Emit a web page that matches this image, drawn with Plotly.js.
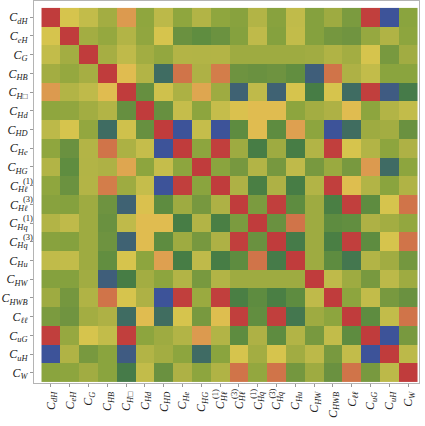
<!DOCTYPE html>
<html>
<head>
<meta charset="utf-8">
<script src="https://cdn.plot.ly/plotly-3.0.1.min.js"></script>
<style>
  html, body { margin: 0; padding: 0; background: #fff; }
  #chart { width: 425px; height: 426px; }
</style>
</head>
<body>
<div id="chart"></div>
<script>
// Wilson coefficient names (row/column order of the matrix)
const labels = [
    'C<sub>dH</sub>', 'C<sub>eH</sub>', 'C<sub>G</sub>', 'C<sub>HB</sub>', 'C<sub>H□</sub>',
    'C<sub>Hd</sub>', 'C<sub>HD</sub>', 'C<sub>He</sub>', 'C<sub>HG</sub>', 'C<sub>Hℓ</sub>',
    'C<sub>Hℓ</sub>', 'C<sub>Hq</sub>', 'C<sub>Hq</sub>', 'C<sub>Hu</sub>', 'C<sub>HW</sub>',
    'C<sub>HWB</sub>', 'C<sub>ℓℓ</sub>', 'C<sub>uG</sub>', 'C<sub>uH</sub>', 'C<sub>W</sub>'
];
// stacked superscripts, drawn over the subscript
const supers = ['', '', '', '', '', '', '', '', '', '(1)', '(3)', '(1)', '(3)', '', '', '', '', '', '', ''];

// correlation matrix
const corr = [
    [1, 0.4, 0.28, 0.06, 0.62, -0.06, 0.24, -0.06, 0.17, -0.06, -0.09, 0.17, -0.09, 0.27, -0.1, 0.02, -0.14, 0.95, -0.95, -0.08],
    [0.4, 1, 0.06, -0.03, 0.17, -0.05, 0.4, -0.25, -0.33, -0.24, -0.1, 0.26, -0.1, 0.28, -0.1, -0.17, -0.21, -0.02, 0.16, -0.07],
    [0.28, 0.06, 1, 0.08, 0.26, 0.05, -0.04, 0.18, 0.17, 0.18, 0.02, 0.02, 0.02, 0.02, 0.04, 0.16, 0.06, 0.4, -0.15, 0.04],
    [0.06, -0.03, 0.08, 1, 0.5, 0.17, -0.65, 0.75, 0.14, 0.72, -0.22, -0.25, -0.22, -0.31, -0.78, 0.75, 0.14, 0.28, -0.08, -0.08],
    [0.62, 0.17, 0.26, 0.5, 1, -0.28, 0.36, 0.13, 0.58, 0.02, -0.74, 0.26, -0.74, 0.4, -0.5, 0.4, -0.65, 0.95, -0.82, -0.52],
    [-0.06, -0.05, 0.05, 0.17, -0.28, 1, -0.27, 0.3, -0.07, 0.3, 0.44, 0.5, 0.5, -0.07, 0.06, 0.14, 0.5, -0.07, 0.17, 0.28],
    [0.24, 0.4, -0.04, -0.65, 0.36, -0.27, 1, -0.95, 0.3, -0.95, -0.34, 0.5, -0.34, 0.6, -0.07, -0.95, -0.64, 0.02, 0.06, -0.25],
    [-0.06, -0.25, 0.18, 0.75, 0.13, 0.3, -0.95, 1, -0.07, 0.95, 0.02, -0.5, 0.02, -0.5, 0.17, 0.95, 0.4, 0.17, -0.07, 0.14],
    [0.17, -0.33, 0.17, 0.14, 0.58, -0.07, 0.3, -0.07, 1, -0.08, -0.16, 0.17, -0.16, 0.26, -0.15, 0.0, -0.15, 0.62, -0.66, -0.07],
    [-0.06, -0.24, 0.18, 0.72, 0.02, 0.3, -0.95, 0.95, -0.08, 1, 0.14, -0.48, 0.14, -0.5, 0.17, 0.95, 0.48, 0.17, -0.08, 0.16],
    [-0.09, -0.1, 0.02, -0.22, -0.74, 0.44, -0.34, 0.02, -0.16, 0.14, 1, -0.14, 0.95, -0.34, 0.02, -0.48, 0.95, -0.34, 0.4, 0.75],
    [0.17, 0.26, 0.02, -0.25, 0.26, 0.5, 0.5, -0.5, 0.17, -0.48, -0.14, 1, -0.25, 0.75, 0.02, -0.34, -0.31, 0.14, 0.06, -0.04],
    [-0.09, -0.1, 0.02, -0.22, -0.74, 0.5, -0.34, 0.02, -0.16, 0.14, 0.95, -0.25, 1, -0.52, 0.02, -0.48, 0.95, -0.34, 0.4, 0.75],
    [0.27, 0.28, 0.02, -0.31, 0.4, -0.07, 0.6, -0.5, 0.26, -0.5, -0.34, 0.75, -0.52, 1, 0.02, -0.34, -0.55, 0.17, 0.04, -0.18],
    [-0.1, -0.1, 0.04, -0.78, -0.5, 0.06, -0.07, 0.17, -0.15, 0.17, 0.02, 0.02, 0.02, 0.02, 1, 0.26, 0.02, -0.15, 0.24, 0.02],
    [0.02, -0.17, 0.16, 0.75, 0.4, 0.14, -0.95, 0.95, 0.0, 0.95, -0.48, -0.34, -0.48, -0.34, 0.26, 1, -0.07, 0.28, -0.15, -0.25],
    [-0.14, -0.21, 0.06, 0.14, -0.65, 0.5, -0.64, 0.4, -0.15, 0.48, 0.95, -0.31, 0.95, -0.55, 0.02, -0.07, 1, -0.34, 0.28, 0.75],
    [0.95, -0.02, 0.4, 0.28, 0.95, -0.07, 0.02, 0.17, 0.62, 0.17, -0.34, 0.14, -0.34, 0.17, -0.15, 0.28, -0.34, 1, -0.95, -0.15],
    [-0.95, 0.16, -0.15, -0.08, -0.82, 0.17, 0.06, -0.07, -0.66, -0.08, 0.4, 0.06, 0.4, 0.04, 0.24, -0.15, 0.28, -0.95, 1, 0.24],
    [-0.08, -0.07, 0.04, -0.08, -0.52, 0.28, -0.25, 0.14, -0.07, 0.16, 0.75, -0.04, 0.75, -0.18, 0.02, -0.25, 0.75, -0.15, 0.24, 1]
];

// blue -> teal -> green -> yellow -> orange -> red
const colorscale = [
    [0.0, '#3c509b'], [0.025, '#3d5399'], [0.1, '#3f5c7e'], [0.175, '#3f6c62'],
    [0.25, '#477d45'], [0.33, '#5e8c40'], [0.375, '#6a9140'], [0.425, '#78993f'],
    [0.465, '#8da53e'], [0.51, '#9eab41'], [0.575, '#afb245'], [0.635, '#c0bb4a'],
    [0.7, '#d6c44d'], [0.75, '#e0bc50'], [0.8, '#dea050'], [0.875, '#d07449'],
    [0.975, '#c13f3d'], [1.0, '#c03c3c']
];

const idx = labels.map((_, i) => i);
const labelFont = { family: 'Liberation Serif, Times New Roman, serif', size: 12, color: '#222', style: 'italic' };

const trace = {
    type: 'heatmap',
    z: corr,
    x: idx,
    y: idx,
    zmin: -1,
    zmax: 1,
    colorscale: colorscale,
    showscale: false,
    hoverinfo: 'skip'
};

const axisCommon = {
    tickmode: 'array',
    tickvals: idx,
    ticktext: labels,
    ticks: 'outside',
    ticklen: 3,
    tickcolor: '#999',
    tickfont: labelFont,
    showgrid: false,
    zeroline: false,
    showline: true,
    mirror: true,
    linecolor: '#b4b4b4',
    linewidth: 1
};

const annotations = [];
supers.forEach((s, i) => {
    if (!s) return;
    // left labels
    annotations.push({
        xref: 'paper', x: 0, xanchor: 'left', xshift: -13,
        yref: 'y', y: i, yanchor: 'middle', yshift: 5,
        text: s, showarrow: false,
        font: { family: 'Liberation Serif, serif', size: 8.5, color: '#222' }
    });
    // bottom labels (rotated)
    annotations.push({
        xref: 'x', x: i, xanchor: 'center', xshift: -5,
        yref: 'paper', y: 0, yanchor: 'middle', yshift: -11,
        text: s, textangle: -90, showarrow: false,
        font: { family: 'Liberation Serif, serif', size: 8.5, color: '#222' }
    });
});

const layout = {
    width: 425,
    height: 426,
    margin: { l: 34, r: 6, t: 1, b: 43 },
    paper_bgcolor: '#fff',
    plot_bgcolor: '#fff',
    xaxis: Object.assign({}, axisCommon, { range: [-0.9, 19.58], tickangle: -90 }),
    yaxis: Object.assign({}, axisCommon, { range: [19.55, -0.87] }),
    annotations: annotations,
    showlegend: false
};

Plotly.newPlot('chart', [trace], layout, { displayModeBar: false, staticPlot: true });
</script>
</body>
</html>
